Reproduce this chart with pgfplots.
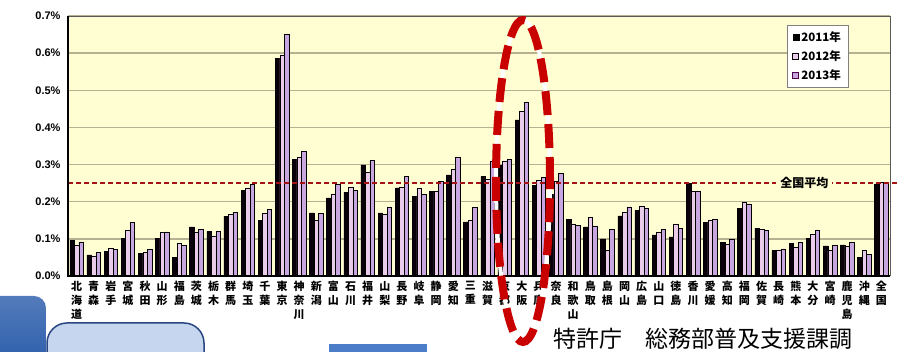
\documentclass[border=0pt]{standalone}
\usepackage{fontspec}
\setmainfont{Liberation Sans}
\newfontfamily\cjk{Noto Sans CJK JP}
\usepackage{pgfplots}
\usepackage{pgfplotstable}
\pgfplotsset{compat=1.18}
\definecolor{bgy}{RGB}{255,253,210}
\definecolor{gridc}{RGB}{182,178,145}
\definecolor{cA}{RGB}{10,0,10}
\definecolor{cB}{RGB}{234,204,234}
\definecolor{cC}{RGB}{200,166,224}
\definecolor{avgred}{RGB}{165,20,20}
\definecolor{ellred}{RGB}{200,0,0}
\definecolor{dblue}{RGB}{40,90,170}
\definecolor{lblue}{RGB}{198,214,238}
\definecolor{bord}{RGB}{40,70,130}
\definecolor{mblue}{RGB}{75,125,200}

\pgfplotstableread{
x a b c
0 0.096 0.084 0.092
1 0.057 0.054 0.063
2 0.066 0.075 0.072
3 0.102 0.123 0.144
4 0.060 0.063 0.072
5 0.102 0.117 0.119
6 0.050 0.087 0.083
7 0.132 0.119 0.126
8 0.120 0.108 0.120
9 0.161 0.165 0.171
10 0.230 0.237 0.248
11 0.149 0.168 0.180
12 0.586 0.595 0.650
13 0.313 0.320 0.336
14 0.170 0.149 0.168
15 0.210 0.221 0.248
16 0.225 0.239 0.230
17 0.299 0.279 0.311
18 0.170 0.165 0.185
19 0.237 0.240 0.268
20 0.214 0.236 0.219
21 0.227 0.227 0.254
22 0.272 0.288 0.320
23 0.146 0.149 0.185
24 0.268 0.260 0.310
25 0.297 0.310 0.314
26 0.420 0.443 0.468
27 0.243 0.257 0.266
28 0.220 0.255 0.277
29 0.152 0.140 0.137
30 0.132 0.158 0.135
31 0.100 0.068 0.126
32 0.162 0.171 0.186
33 0.177 0.189 0.182
34 0.111 0.117 0.126
35 0.105 0.140 0.129
36 0.250 0.228 0.228
37 0.144 0.149 0.153
38 0.090 0.086 0.099
39 0.183 0.198 0.194
40 0.129 0.126 0.122
41 0.069 0.070 0.073
42 0.087 0.078 0.090
43 0.102 0.113 0.122
44 0.081 0.068 0.084
45 0.084 0.081 0.090
46 0.051 0.068 0.059
47 0.248 0.252 0.252
}\data

\begin{document}
\begin{tikzpicture}
\useasboundingbox (0pt,0pt) rectangle (912pt,352pt);
\begin{axis}[
  at={(68pt,76pt)}, anchor=south west, scale only axis,
  width=822pt, height=260pt,
  ybar=0pt, bar width=4.5pt,
  xmin=-0.5, xmax=47.5, ymin=0, ymax=0.7,
  axis background/.style={fill=bgy},
  axis line style={draw=gray!70!black, line width=1pt},
  ytick={0,0.1,0.2,0.3,0.4,0.5,0.6,0.7},
  yticklabels={0.0\%,0.1\%,0.2\%,0.3\%,0.4\%,0.5\%,0.6\%,0.7\%},
  yticklabel style={font=\bfseries\fontsize{11}{13}\selectfont, xshift=-4pt},
  ymajorgrids, grid style={draw=gridc, line width=1.4pt},
  major tick length=0pt,
  xtick={0,...,47},
  xticklabels={北\\海\\道,青\\森,岩\\手,宮\\城,秋\\田,山\\形,福\\島,茨\\城,栃\\木,群\\馬,埼\\玉,千\\葉,東\\京,神\\奈\\川,新\\潟,富\\山,石\\川,福\\井,山\\梨,長\\野,岐\\阜,静\\岡,愛\\知,三\\重,滋\\賀,京\\都,大\\阪,兵\\庫,奈\\良,和\\歌\\山,鳥\\取,島\\根,岡\\山,広\\島,山\\口,徳\\島,香\\川,愛\\媛,高\\知,福\\岡,佐\\賀,長\\崎,熊\\本,大\\分,宮\\崎,鹿\\児\\島,沖\\縄,全\\国},
  xticklabel style={align=center, font=\cjk\bfseries\fontsize{11}{14}\selectfont, anchor=north, yshift=-2pt},
  legend style={at={(0.875,0.965)}, anchor=north west, draw=gray, fill=white,
    font=\cjk\bfseries\fontsize{11.5}{13}\selectfont, row sep=4pt, inner xsep=5pt, inner ysep=4pt},
  legend cell align=left,
  clip=false,
]
\addplot[draw=black, fill=cA, line width=0.5pt,
  legend image code/.code={\draw[fill=black,draw=black] (2pt,-3pt) rectangle (8pt,3pt);}]
  table[x=x,y=a]{\data};
\addplot[draw=black, fill=cB, line width=0.5pt,
  legend image code/.code={\draw[fill=cB,draw=black,line width=0.8pt] (2pt,-3pt) rectangle (8pt,3pt);}]
  table[x=x,y=b]{\data};
\addplot[draw=black, fill=cC, line width=0.5pt,
  legend image code/.code={\draw[fill=cC,draw=violet!60!black,line width=0.8pt] (2pt,-3pt) rectangle (8pt,3pt);}]
  table[x=x,y=c]{\data};
\legend{2011年,2012年,2013年}
\draw[avgred, line width=1.3pt, dash pattern=on 5pt off 3pt] (axis cs:-0.5,0.25) -- (axis cs:47.9,0.25);
\node[fill=bgy, inner xsep=4pt, inner ysep=1pt, font=\cjk\bfseries\fontsize{12}{13}\selectfont] at (axis cs:42.5,0.25) {全国平均};
\draw[black, line width=1.5pt] (rel axis cs:0,1) -- (rel axis cs:0,0) -- (rel axis cs:1,0);
\end{axis}
% red dashed ellipse
\draw[white, line width=4pt] (523pt,171pt) ellipse [x radius=27pt, y radius=161pt];
\draw[ellred, line width=8pt, dash pattern=on 24pt off 9pt] (523pt,171pt) ellipse [x radius=27pt, y radius=161pt];
% slide decorations
\shade[top color=dblue!80!white, bottom color=dblue, rounded corners=12pt] (-15pt,-20pt) rectangle (46pt,56pt);
\filldraw[fill=lblue, draw=bord, line width=1.5pt, rounded corners=20pt] (47pt,-25pt) rectangle (204pt,29pt);
\fill[mblue] (329pt,-5pt) rectangle (427pt,8pt);
\node[anchor=west, inner sep=0pt, font=\cjk\fontsize{23}{23}\selectfont] at (553pt,13pt) {特許庁　総務部普及支援課調};
\end{tikzpicture}
\end{document}
